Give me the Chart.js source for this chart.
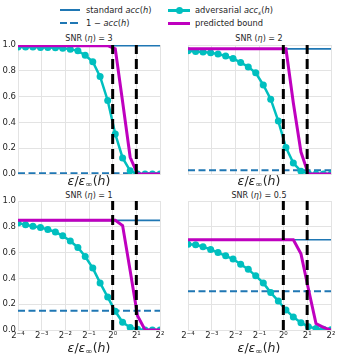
<!DOCTYPE html>
<html>
<head>
<meta charset="utf-8">
<script src="https://cdn.jsdelivr.net/npm/chart.js@4.4.1/dist/chart.umd.min.js"></script>
<style>
body{margin:0;width:339px;height:358px;position:relative;overflow:hidden;background:#fff;font-family:"DejaVu Sans",sans-serif;color:#262626}
canvas{position:absolute}
.t{position:absolute;font-size:8px;white-space:nowrap;transform:translate(-50%,-50%)}
.xl{position:absolute;font-size:12.5px;white-space:nowrap;transform:translate(-50%,-50%)}
.leg{position:absolute;font-size:8.3px;white-space:nowrap;transform:translateY(-50%)}
.sw{position:absolute}
sub{font-size:70%;vertical-align:-2px}
</style>
</head>
<body>
<!-- legend -->
<div class="sw" style="left:60px;top:9px;width:20px;height:1.6px;background:#1f77b4"></div>
<div class="leg" style="left:86px;top:10px">standard <i>acc</i>(<i>h</i>)</div>
<div class="sw" style="left:168px;top:9px;width:22px;height:2.5px;background:#00bfbf"></div>
<div class="sw" style="left:175.5px;top:6.7px;width:7px;height:7px;border-radius:50%;background:#00bfbf"></div>
<div class="leg" style="left:195px;top:10px">adversarial <i>acc</i><sub><i>ε</i></sub>(<i>h</i>)</div>
<div class="sw" style="left:60px;top:22.3px;width:21px;height:2px;background:repeating-linear-gradient(90deg,#1f77b4 0 7px,transparent 7px 10.5px)"></div>
<div class="leg" style="left:86px;top:23.3px">1 − <i>acc</i>(<i>h</i>)</div>
<div class="sw" style="left:168px;top:21.8px;width:22px;height:3px;background:#bf00bf"></div>
<div class="leg" style="left:195px;top:23.3px">predicted bound</div>

<div class="t" style="left:89px;top:38px">SNR (<i>η</i>) = 3</div>
<div class="t" style="left:259px;top:38px">SNR (<i>η</i>) = 2</div>
<div class="t" style="left:89px;top:195px">SNR (<i>η</i>) = 1</div>
<div class="t" style="left:259px;top:195px">SNR (<i>η</i>) = 0.5</div>

<canvas id="p0" width="180" height="149" style="left:-10px;top:35px"></canvas>
<canvas id="p1" width="163" height="149" style="left:178px;top:35px"></canvas>
<canvas id="p2" width="180" height="163" style="left:-10px;top:191px"></canvas>
<canvas id="p3" width="163" height="163" style="left:178px;top:191px"></canvas>

<div class="xl" style="left:89px;top:181px"><i>ε</i>/<i>ε</i><sub>∞</sub>(<i>h</i>)</div>
<div class="xl" style="left:259px;top:181px"><i>ε</i>/<i>ε</i><sub>∞</sub>(<i>h</i>)</div>
<div class="xl" style="left:89px;top:348px"><i>ε</i>/<i>ε</i><sub>∞</sub>(<i>h</i>)</div>
<div class="xl" style="left:259px;top:348px"><i>ε</i>/<i>ε</i><sub>∞</sub>(<i>h</i>)</div>

<script>
// log2 of eps / eps_inf(h)
var logEps = [-4, -3.68, -3.37, -3.05, -2.74, -2.42, -2.11, -1.79, -1.47, -1.16,
              -0.84, -0.53, -0.21, 0.11, 0.42, 0.74, 1.05, 1.37, 1.68, 2];
var xTicks = [-4, -3, -2, -1, 0, 1, 2];
var thresholds = [0, 1];

var snr = ["3", "2", "1", "0.5"];
var stdAcc = [0.995, 0.97, 0.85, 0.70];

var advAcc3 = [0.985, 0.985, 0.985, 0.98, 0.98, 0.978, 0.975, 0.968, 0.955, 0.92,
               0.87, 0.755, 0.57, 0.31, 0.125, 0.025, 0, 0, 0, 0];
var advAcc2 = [0.955, 0.95, 0.945, 0.94, 0.93, 0.915, 0.895, 0.865, 0.83, 0.785,
               0.69, 0.58, 0.41, 0.205, 0.085, 0.022, 0.003, 0, 0, 0];
var advAcc1 = [0.83, 0.815, 0.805, 0.795, 0.78, 0.76, 0.73, 0.69, 0.64, 0.57,
               0.48, 0.365, 0.255, 0.145, 0.06, 0.02, 0.005, 0, 0, 0];
var advAcc05 = [0.665, 0.66, 0.645, 0.625, 0.60, 0.575, 0.55, 0.51, 0.47, 0.42,
                0.365, 0.29, 0.225, 0.155, 0.10, 0.057, 0.026, 0.012, 0.005, 0.002];

var bound3 = [0.995, 0.995, 0.995, 0.995, 0.995, 0.995, 0.995, 0.995, 0.995, 0.995,
              0.995, 0.995, 0.995, 0.97, 0.56, 0.13, 0, 0, 0, 0];
var bound2 = [0.97, 0.97, 0.97, 0.97, 0.97, 0.97, 0.97, 0.97, 0.97, 0.97,
              0.97, 0.97, 0.97, 0.97, 0.55, 0.17, 0, 0, 0, 0];
var bound1 = [0.85, 0.85, 0.85, 0.85, 0.85, 0.85, 0.85, 0.85, 0.85, 0.85,
              0.85, 0.85, 0.85, 0.85, 0.81, 0.46, 0.11, 0, 0, 0];
var bound05 = [0.70, 0.70, 0.70, 0.70, 0.70, 0.70, 0.70, 0.70, 0.70, 0.70,
               0.70, 0.70, 0.70, 0.70, 0.70, 0.59, 0.32, 0.05, 0.02, 0];

var advAcc = [advAcc3, advAcc2, advAcc1, advAcc05];
var bound = [bound3, bound2, bound1, bound05];

var sup = {"-": "⁻", "0": "⁰", "1": "¹", "2": "²", "3": "³", "4": "⁴"};
var gridCol = "#e3e3e3";
var tickFont = {family: "DejaVu Sans", size: 8.5};

function pts(ys) {
    return logEps.map(function (x, k) { return {x: x, y: ys[k]}; });
}

function panel(id, i, showY, showX) {
    var xMin = xTicks[0], xMax = xTicks[xTicks.length - 1];
    var ds = [];
    thresholds.forEach(function (t) {
        ds.push({label: "threshold", data: [{x: t, y: 0}, {x: t, y: 1}],
            borderColor: "#000", borderWidth: 3, borderDash: [10, 5],
            pointRadius: 0, order: 0});
    });
    ds.push({label: "predicted bound", data: pts(bound[i]),
        borderColor: "#bf00bf", borderWidth: 3, pointRadius: 0, order: 1});
    ds.push({label: "adversarial acc", data: pts(advAcc[i]),
        borderColor: "#00bfbf", backgroundColor: "#00bfbf", borderWidth: 2.5,
        pointRadius: 3.5, pointBorderWidth: 0, order: 2});
    ds.push({label: "standard acc", data: [{x: xMin, y: stdAcc[i]}, {x: xMax, y: stdAcc[i]}],
        borderColor: "#1f77b4", borderWidth: 1.6, pointRadius: 0, order: 3});
    ds.push({label: "1 - acc", data: [{x: xMin, y: 1 - stdAcc[i]}, {x: xMax, y: 1 - stdAcc[i]}],
        borderColor: "#1f77b4", borderWidth: 2, borderDash: [7, 3.5], pointRadius: 0, order: 3});

    new Chart(document.getElementById(id), {
        type: "line",
        data: {datasets: ds},
        options: {
            responsive: false,
            animation: false,
            devicePixelRatio: 1,
            layout: {padding: 10},
            plugins: {legend: {display: false}, tooltip: {enabled: false}},
            scales: {
                x: {
                    type: "linear", min: xMin, max: xMax,
                    afterBuildTicks: function (s) { s.ticks = xTicks.map(function (v) { return {value: v}; }); },
                    afterFit: function (s) { s.height = showX ? 14 : 0; },
                    grid: {color: gridCol, drawTicks: false},
                    border: {color: gridCol},
                    ticks: {
                        display: showX, padding: 1, font: tickFont, color: "#262626",
                        autoSkip: false, maxRotation: 0,
                        callback: function (v) {
                            return "2" + String(v).split("").map(function (c) { return sup[c]; }).join("");
                        }
                    }
                },
                y: {
                    min: 0, max: 1,
                    afterFit: function (s) { s.width = showY ? 18 : 0; },
                    grid: {color: gridCol, drawTicks: false},
                    border: {color: gridCol},
                    ticks: {
                        display: showY, stepSize: 0.2, padding: 2, font: tickFont, color: "#262626",
                        callback: function (v) { return v.toFixed(1); }
                    }
                }
            }
        }
    });
}

panel("p0", 0, true, false);
panel("p1", 1, false, false);
panel("p2", 2, true, true);
panel("p3", 3, false, true);
</script>
</body>
</html>
